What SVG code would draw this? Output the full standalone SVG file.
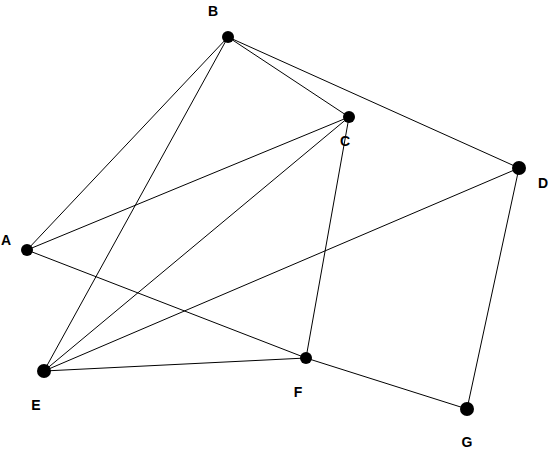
<svg xmlns="http://www.w3.org/2000/svg" width="553" height="456" viewBox="0 0 553 456">
<style>
.edge{stroke:#000;stroke-width:1;fill:none}
.node{fill:#000}
.lbl{font-family:"Liberation Sans",Arial,sans-serif;font-size:14px;font-weight:bold;fill:#000;text-anchor:middle}
</style>
<rect width="553" height="456" fill="#fff"/>
<g id="connectors">
<line class="edge" x1="27" y1="250" x2="228" y2="37"/>
<line class="edge" x1="27" y1="250" x2="349" y2="117"/>
<line class="edge" x1="27" y1="250" x2="306" y2="358"/>
<line class="edge" x1="228" y1="37" x2="349" y2="117"/>
<line class="edge" x1="228" y1="37" x2="519" y2="168"/>
<line class="edge" x1="228" y1="37" x2="44" y2="371"/>
<line class="edge" x1="349" y1="117" x2="44" y2="371"/>
<line class="edge" x1="349" y1="117" x2="306" y2="358"/>
<line class="edge" x1="519" y1="168" x2="44" y2="371"/>
<line class="edge" x1="519" y1="168" x2="467" y2="409"/>
<line class="edge" x1="44" y1="371" x2="306" y2="358"/>
<line class="edge" x1="306" y1="358" x2="467" y2="409"/>
</g>
<g id="A"><circle class="node" cx="27" cy="250" r="6"/><text class="lbl" x="6" y="245">A</text></g>
<g id="B"><circle class="node" cx="228" cy="37" r="6"/><text class="lbl" x="213" y="16">B</text></g>
<g id="C"><circle class="node" cx="349" cy="117" r="6"/><text class="lbl" x="345" y="146">C</text></g>
<g id="D"><circle class="node" cx="519" cy="168" r="7"/><text class="lbl" x="543" y="188">D</text></g>
<g id="E"><circle class="node" cx="44" cy="371" r="7"/><text class="lbl" x="36" y="410">E</text></g>
<g id="F"><circle class="node" cx="306" cy="358" r="6"/><text class="lbl" x="298" y="397">F</text></g>
<g id="G"><circle class="node" cx="467" cy="409" r="7"/><text class="lbl" x="467" y="447">G</text></g>
</svg>
